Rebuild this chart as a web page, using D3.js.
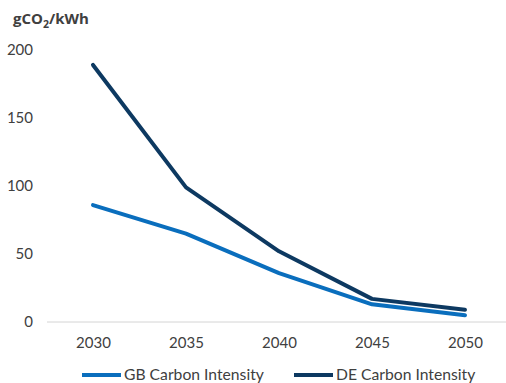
<!DOCTYPE html>
<html>
<head>
<meta charset="utf-8">
<script src="https://cdn.jsdelivr.net/npm/d3@7"></script>
<style>
  html, body { margin: 0; padding: 0; background: #fff; }
  svg { display: block; }
</style>
</head>
<body>
<svg id="chart" width="506" height="383"></svg>
<script>
// Carbon intensity of electricity, gCO2/kWh
const years = ["2030", "2035", "2040", "2045", "2050"];
const gbIntensity = [86, 65, 36, 13, 5];
const deIntensity = [189, 99, 52, 17, 9];
const yTicks = [0, 50, 100, 150, 200];

const seriesList = [
  { name: "GB Carbon Intensity", values: gbIntensity, color: "#0a6ebd" },
  { name: "DE Carbon Intensity", values: deIntensity, color: "#0d3961" }
];

const svg = d3.select("#chart");
const textColor = "#404040";
const tickFont = "Lato, 'Open Sans', sans-serif";

const x = d3.scalePoint().domain(years).range([93, 465]);
const y = d3.scaleLinear().domain([0, 200]).range([322, 50]);

// unit label
const title = svg.append("text")
  .attr("x", 13).attr("y", 24)
  .attr("fill", textColor)
  .style("font-family", "'Open Sans', sans-serif")
  .style("font-weight", "700")
  .style("font-size", "15px");
title.append("tspan").text("gCO");
title.append("tspan").attr("dy", 4).style("font-size", "10.5px").text("2");
title.append("tspan").attr("dy", -4).text("/kWh");

// y axis labels (no axis line)
const yAxis = d3.axisLeft(y).tickValues(yTicks).tickSize(0).tickPadding(0);
const gy = svg.append("g").attr("transform", "translate(33,0)").call(yAxis);
gy.select(".domain").remove();
gy.selectAll("text")
  .attr("fill", textColor)
  .style("font-family", tickFont)
  .style("font-size", "15px");

// baseline
svg.append("line")
  .attr("x1", 47).attr("x2", 506)
  .attr("y1", y(0)).attr("y2", y(0))
  .attr("stroke", "#d4d4d4").attr("stroke-width", 1);

// x axis labels
const xAxis = d3.axisBottom(x).tickSize(0).tickPadding(0);
const gx = svg.append("g").attr("transform", "translate(0,337)").call(xAxis);
gx.select(".domain").remove();
gx.selectAll("text")
  .attr("fill", textColor)
  .attr("dy", "0.71em")
  .style("font-family", tickFont)
  .style("font-size", "15px");

// lines
const line = d3.line()
  .x((d, i) => x(years[i]))
  .y(d => y(d));

seriesList.forEach(s => {
  svg.append("path")
    .datum(s.values)
    .attr("d", line)
    .attr("fill", "none")
    .attr("stroke", s.color)
    .attr("stroke-width", 4)
    .attr("stroke-linecap", "round")
    .attr("stroke-linejoin", "round");
});

// legend
const legendX = [82, 294];
seriesList.forEach((s, i) => {
  const g = svg.append("g").attr("transform", `translate(${legendX[i]},375)`);
  g.append("line")
    .attr("x1", 0).attr("x2", 39)
    .attr("y1", 0).attr("y2", 0)
    .attr("stroke", s.color).attr("stroke-width", 4);
  g.append("text")
    .attr("x", 42).attr("y", 5)
    .attr("fill", textColor)
    .style("font-family", tickFont)
    .style("font-size", "15.7px")
    .text(s.name);
});
</script>
</body>
</html>
